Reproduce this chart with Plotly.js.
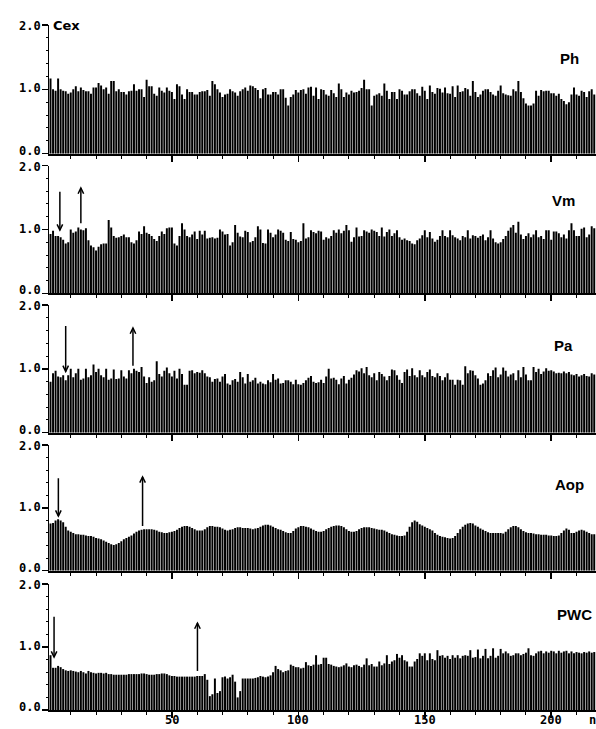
<!DOCTYPE html>
<html>
<head>
<meta charset="utf-8">
<script src="https://cdn.plot.ly/plotly-3.0.1.min.js"></script>
<style>html,body{margin:0;padding:0;background:#fff;}#chart{width:596px;height:729px;}</style>
</head>
<body>
<div id="chart"></div>
<script>
// sample number of the first bar
const firstN = 2;

// Panel names
const panelNames = ['Ph', 'Vm', 'Pa', 'Aop', 'PWC'];

// tick labels
const xTickVals = [50, 100, 150, 200];
const yTickVals = [0, 1, 2];
const yTickText = ['0.0', '1.0', '2.0'];

// Cex values per sample n
const ph = [
1.17,1.00,0.98,1.17,1.00,0.98,0.97,0.93,0.95,1.00,
1.05,0.97,1.03,0.99,0.97,0.97,0.93,1.03,1.03,1.10,
1.06,1.00,1.03,0.93,1.13,1.13,0.97,1.00,0.96,0.96,
0.92,0.97,0.98,1.08,0.98,1.00,1.00,0.88,1.15,1.05,
1.05,0.93,0.90,1.03,0.98,0.95,1.03,0.98,0.96,0.85,
1.08,1.05,0.92,0.85,1.00,0.96,0.96,0.92,0.92,0.96,
0.97,0.97,0.99,0.90,1.13,1.08,1.00,0.95,0.88,0.92,
0.93,1.00,0.97,0.95,0.90,0.97,1.00,1.03,0.98,1.06,
1.05,1.02,0.99,0.86,1.00,1.02,0.92,0.92,0.96,0.96,
0.92,1.00,1.00,0.87,0.75,
0.88,0.92,0.99,0.95,
0.99,1.00,0.93,1.03,1.04,0.90,1.03,0.85,1.00,0.99,
0.92,0.90,0.99,0.94,0.88,1.09,1.00,0.88,0.95,0.92,
0.98,0.95,0.96,0.98,1.02,1.15,1.00,1.00,0.75,0.90,
0.92,0.94,0.90,1.09,0.98,0.85,0.96,0.96,0.85,1.00,
0.98,0.92,0.92,0.97,1.00,1.00,0.94,0.90,1.04,0.98,
0.85,1.06,0.96,0.93,1.02,1.01,0.95,1.03,0.94,0.93,
1.05,0.88,1.06,0.96,0.97,1.02,1.00,0.90,1.13,0.96,
0.88,0.92,0.98,1.00,1.00,0.96,0.92,0.90,0.98,1.06,
0.94,0.92,0.91,0.90,1.00,0.97,1.13,0.96,0.86,0.78,
0.75,0.75,0.78,0.98,0.90,0.99,0.97,0.98,0.98,0.94,
0.94,0.90,0.93,0.85,0.82,0.77,0.80,0.92,1.03,0.92,
0.90,0.98,0.96,0.88,0.97,1.00,0.92
];

const vm = [
0.93,0.98,0.90,0.90,0.88,0.84,0.78,0.80,1.00,0.95,
0.97,1.03,1.00,0.99,1.02,0.83,0.75,0.72,0.67,0.73,
0.77,0.78,0.78,1.15,1.03,0.90,0.87,0.88,0.90,0.92,
0.88,0.88,0.80,0.78,0.83,0.97,0.93,1.05,0.95,0.93,
0.90,0.85,0.82,0.90,0.97,0.93,1.02,1.03,1.03,0.78,
0.75,0.90,1.10,1.00,0.90,0.88,0.92,0.97,0.85,0.98,
0.92,0.98,0.86,0.87,0.88,0.86,0.87,1.00,0.97,0.92,
0.93,0.75,0.80,1.07,0.95,0.89,0.88,0.98,0.96,0.80,
0.82,0.88,1.05,1.00,0.79,0.78,1.00,0.95,0.88,0.92,
1.00,0.98,0.95,0.84,0.82,
0.96,0.85,0.84,0.80,
0.82,1.10,0.86,0.88,0.99,0.96,0.94,0.98,0.97,0.84,
0.88,0.86,0.90,0.99,0.95,1.00,0.94,0.98,1.07,0.99,
0.81,0.88,1.03,0.89,0.90,0.99,0.97,0.95,1.00,0.98,
0.96,0.90,1.03,0.89,0.96,1.00,0.90,0.94,0.99,0.88,
0.84,0.86,0.83,0.82,0.78,0.77,0.83,0.86,0.91,0.99,
0.88,0.96,0.86,0.81,0.84,0.90,0.99,0.90,0.88,0.99,
0.91,0.88,0.86,0.83,0.90,0.88,0.99,0.86,0.91,0.90,
0.87,0.90,0.92,0.83,0.88,0.99,0.86,0.80,0.78,0.80,
0.85,0.90,0.98,1.03,1.07,0.95,1.12,0.92,0.85,0.90,
0.94,0.88,0.92,0.99,0.88,0.90,0.85,0.99,0.99,0.84,
0.97,0.97,0.94,0.88,0.92,0.86,0.99,1.10,0.99,0.90,
0.90,1.01,1.03,0.88,0.92,1.05,1.02
];

const pa = [
0.80,0.93,0.97,0.88,0.87,0.90,0.82,0.90,1.00,0.87,
0.93,1.00,0.83,0.85,1.00,0.87,0.90,1.07,0.95,1.00,
0.90,0.87,1.00,0.83,0.85,0.99,0.84,0.85,0.98,0.88,
0.85,0.98,0.93,1.00,0.97,0.95,1.03,0.88,0.78,0.87,
0.80,0.82,1.12,0.92,0.88,0.97,1.02,0.93,0.88,0.97,
0.85,1.00,0.92,0.75,0.75,0.97,0.98,0.93,0.95,0.94,
0.98,0.93,0.88,0.87,0.80,0.84,0.85,0.80,0.88,0.92,
0.77,0.75,0.82,0.84,0.80,0.95,0.87,0.77,0.92,0.80,
0.82,0.86,0.77,0.80,0.77,0.76,0.82,0.79,0.92,0.83,
0.85,0.77,0.78,0.82,0.82,
0.80,0.76,0.83,0.76,
0.75,0.78,0.82,0.86,0.89,0.80,0.78,0.79,0.83,0.78,
0.88,1.00,0.85,0.86,0.83,0.76,0.85,0.89,0.77,0.83,
0.86,0.91,0.98,0.96,1.01,0.93,1.03,0.90,0.87,0.93,
0.82,0.95,0.92,0.88,0.82,0.89,0.99,0.98,0.90,0.83,
0.78,0.95,0.99,0.89,1.01,0.90,0.87,0.98,0.90,0.87,
0.95,0.99,0.89,0.87,0.93,0.89,0.82,0.87,0.93,0.83,
0.83,0.75,0.83,0.82,0.75,1.04,0.93,0.98,0.97,0.90,
0.85,0.75,0.77,0.82,0.93,0.89,0.98,1.02,0.87,0.91,
1.02,0.97,0.88,0.91,0.93,0.82,0.98,0.87,1.03,0.91,
0.82,0.82,1.03,0.95,1.00,0.92,0.96,1.01,0.97,0.98,
0.96,0.93,0.94,0.93,0.96,0.93,0.95,0.91,0.90,0.92,
0.88,0.90,0.92,0.89,0.88,0.93,0.91
];

const aop = [
0.75,0.76,0.80,0.82,0.80,0.77,0.70,0.64,0.62,0.60,
0.58,0.58,0.57,0.57,0.56,0.55,0.55,0.54,0.52,0.51,
0.50,0.48,0.46,0.44,0.42,0.41,0.42,0.44,0.47,0.50,
0.52,0.54,0.56,0.59,0.62,0.64,0.65,0.66,0.66,0.66,
0.66,0.65,0.64,0.62,0.61,0.60,0.60,0.61,0.62,0.63,
0.65,0.68,0.70,0.71,0.71,0.70,0.68,0.66,0.64,0.64,
0.64,0.66,0.69,0.71,0.71,0.70,0.70,0.69,0.67,0.65,
0.64,0.65,0.66,0.68,0.69,0.69,0.68,0.68,0.68,0.67,
0.66,0.67,0.68,0.70,0.72,0.73,0.73,0.72,0.70,0.68,
0.66,0.65,0.63,0.61,0.60,
0.60,0.63,0.67,0.69,
0.71,0.71,0.70,0.69,0.67,0.65,0.63,0.62,0.62,0.63,
0.66,0.68,0.70,0.71,0.72,0.72,0.71,0.69,0.66,0.63,
0.62,0.62,0.63,0.66,0.68,0.69,0.69,0.69,0.68,0.67,
0.66,0.65,0.65,0.64,0.62,0.60,0.58,0.57,0.56,0.55,
0.55,0.56,0.62,0.70,0.77,0.80,0.78,0.74,0.72,0.70,
0.68,0.66,0.64,0.60,0.57,0.55,0.54,0.53,0.52,0.51,
0.52,0.55,0.60,0.66,0.70,0.73,0.75,0.76,0.75,0.72,
0.70,0.67,0.65,0.63,0.61,0.60,0.60,0.60,0.60,0.60,
0.59,0.62,0.66,0.69,0.71,0.71,0.69,0.66,0.63,0.61,
0.60,0.60,0.59,0.58,0.58,0.57,0.57,0.57,0.56,0.56,
0.55,0.55,0.56,0.60,0.64,0.67,0.65,0.60,0.60,0.62,
0.64,0.65,0.64,0.62,0.60,0.58,0.58
];

const pwc = [
0.87,0.67,0.67,0.70,0.68,0.65,0.63,0.62,0.63,0.62,
0.61,0.60,0.62,0.60,0.58,0.62,0.60,0.59,0.58,0.59,
0.59,0.58,0.59,0.57,0.57,0.56,0.56,0.56,0.56,0.56,
0.56,0.57,0.57,0.57,0.57,0.57,0.58,0.58,0.57,0.56,
0.56,0.56,0.57,0.57,0.58,0.58,0.57,0.55,0.54,0.54,
0.53,0.53,0.53,0.53,0.53,0.53,0.53,0.53,0.54,0.54,
0.54,0.57,0.48,0.22,0.25,0.50,0.27,0.30,0.52,0.53,
0.50,0.52,0.56,0.45,0.20,0.30,0.50,0.50,0.50,0.50,
0.50,0.51,0.52,0.54,0.53,0.52,0.53,0.55,0.60,0.70,
0.65,0.63,0.60,0.62,0.63,
0.72,0.70,0.68,0.68,
0.66,0.67,0.76,0.71,0.70,0.72,0.87,0.72,0.73,0.83,
0.83,0.73,0.72,0.70,0.69,0.68,0.69,0.71,0.74,0.69,
0.68,0.71,0.72,0.70,0.68,0.72,0.82,0.71,0.73,0.69,
0.69,0.77,0.71,0.74,0.87,0.73,0.77,0.79,0.89,0.83,
0.87,0.79,0.77,0.69,0.69,0.77,0.81,0.90,0.86,0.90,
0.79,0.90,0.81,0.79,0.95,0.86,0.87,0.83,0.86,0.81,
0.87,0.83,0.87,0.82,0.86,0.87,0.86,0.95,0.83,0.84,
0.96,0.82,0.86,0.97,0.82,0.86,0.98,0.83,0.86,0.97,
0.90,0.93,0.90,0.86,0.87,0.90,0.90,0.87,0.89,0.91,
0.98,0.87,0.86,0.90,0.93,0.94,0.90,0.93,0.91,0.94,
0.93,0.90,0.94,0.91,0.93,0.94,0.90,0.93,0.90,0.92,
0.91,0.90,0.92,0.91,0.93,0.91,0.92
];

// Arrows (panel index 1..5, sample n, tail value, head value)
const arrowPanel = [2, 2, 3, 3, 4, 4, 5, 5];
const arrowN     = [5.7, 14.0, 8.0, 34.6, 5.1, 38.4, 3.4, 60.1];
const arrowTail  = [1.59, 1.10, 1.67, 1.05, 1.47, 0.71, 1.48, 0.62];
const arrowHead  = [0.99, 1.65, 0.96, 1.64, 0.87, 1.49, 0.84, 1.38];

const series = [ph, vm, pa, aop, pwc];
const domains = [[0.8121, 1.0], [0.6083, 0.7946], [0.4048, 0.5912], [0.2034, 0.3869], [0.0, 0.1839]];
const labelPos = [[0.9305, 0.9504], [0.9159, 0.7445], [0.9196, 0.5328], [0.9214, 0.3299], [0.9250, 0.1387]];
const yLabelShift = [3, 1, -1];

const yFont = {family: 'DejaVu Sans Mono', size: 12, color: '#000', weight: 'bold'};
const xFont = {family: 'DejaVu Sans Mono', size: 12, color: '#000', weight: 'bold'};

const traces = series.map((vals, k) => {
  const s = k === 0 ? '' : String(k + 1);
  return {
    type: 'bar',
    x: vals.map((_, i) => firstN + i),
    y: vals,
    xaxis: 'x' + s,
    yaxis: 'y' + s,
    marker: {color: '#000', line: {width: 0}},
    hoverinfo: 'skip'
  };
});

const layout = {
  width: 596, height: 729,
  margin: {l: 49, r: 0, t: 25, b: 19},
  paper_bgcolor: '#fff', plot_bgcolor: '#fff',
  showlegend: false,
  bargap: 0.22,
  annotations: [],
  shapes: []
};

series.forEach((vals, k) => {
  const s = k === 0 ? '' : String(k + 1);
  layout['xaxis' + s] = {
    domain: [0, 1], anchor: 'y' + s,
    range: [1.4, 217.7],
    showline: true, linecolor: '#000', linewidth: 2,
    ticks: 'outside', tickmode: 'linear', tick0: 0, dtick: 50,
    ticklen: 6, tickwidth: 1.5, tickcolor: '#000',
    minor: {ticks: 'outside', tickmode: 'linear', tick0: 0, dtick: 10, ticklen: 3, tickwidth: 1, tickcolor: '#000'},
    showgrid: false, zeroline: false,
    showticklabels: false,
    fixedrange: true
  };
  layout['yaxis' + s] = {
    domain: domains[k], anchor: 'x' + s,
    range: [0, 2],
    showline: true, linecolor: '#000', linewidth: 1.5,
    ticks: 'outside', tickmode: 'linear', tick0: 0, dtick: 1,
    ticklen: 6, tickwidth: 1.5, tickcolor: '#000',
    minor: {ticks: 'outside', tickmode: 'linear', tick0: 0, dtick: 0.2, ticklen: 2, tickwidth: 1, tickcolor: '#000'},
    showgrid: false, zeroline: false,
    showticklabels: false,
    fixedrange: true
  };
  // y tick labels
  yTickVals.forEach((v, j) => {
    layout.annotations.push({
      text: yTickText[j], xref: 'paper', yref: 'y' + s, x: 0, y: v,
      xanchor: 'right', yanchor: 'middle', xshift: -7, yshift: yLabelShift[j],
      borderpad: 0, showarrow: false, font: yFont
    });
  });
  layout.annotations.push({
    text: panelNames[k], xref: 'paper', yref: 'paper',
    x: labelPos[k][0], y: labelPos[k][1], xanchor: 'left', yanchor: 'middle',
    showarrow: false,
    font: {family: 'Liberation Sans', size: 15, color: '#000', weight: 'bold'}
  });
});

// bottom x tick labels
xTickVals.forEach(v => {
  layout.annotations.push({
    text: String(v), xref: 'x5', yref: 'paper', x: v, y: -0.0263,
    xanchor: 'center', yanchor: 'bottom', borderpad: 0, showarrow: false, font: xFont
  });
});

layout.annotations.push({
  text: 'Cex', xref: 'paper', yref: 'paper', x: 0, y: 1.0, xanchor: 'left', yanchor: 'middle',
  xshift: 2, showarrow: false,
  font: {family: 'DejaVu Sans', size: 13, color: '#000', weight: 'bold'}
});
layout.annotations.push({
  text: 'n', xref: 'paper', yref: 'paper', x: 0.985, y: -0.0263, xanchor: 'left', yanchor: 'bottom',
  borderpad: 0, showarrow: false,
  font: xFont
});

arrowPanel.forEach((p, i) => {
  const s = p === 1 ? '' : String(p);
  const xr = 'x' + s, yr = 'y' + s;
  const x = arrowN[i], t = arrowTail[i], h = arrowHead[i];
  const dir = h < t ? 1 : -1; // 1: pointing down
  const dx = 1.1, dy = 0.09 * dir;
  layout.shapes.push({type: 'line', xref: xr, yref: yr, x0: x, x1: x, y0: t, y1: h,
    line: {color: '#000', width: 1.5}});
  layout.shapes.push({type: 'path', xref: xr, yref: yr,
    path: `M ${x - dx},${h + dy} L ${x},${h} L ${x + dx},${h + dy}`,
    line: {color: '#000', width: 1.5}});
});

Plotly.newPlot('chart', traces, layout, {staticPlot: true, displayModeBar: false});
</script>
</body>
</html>
